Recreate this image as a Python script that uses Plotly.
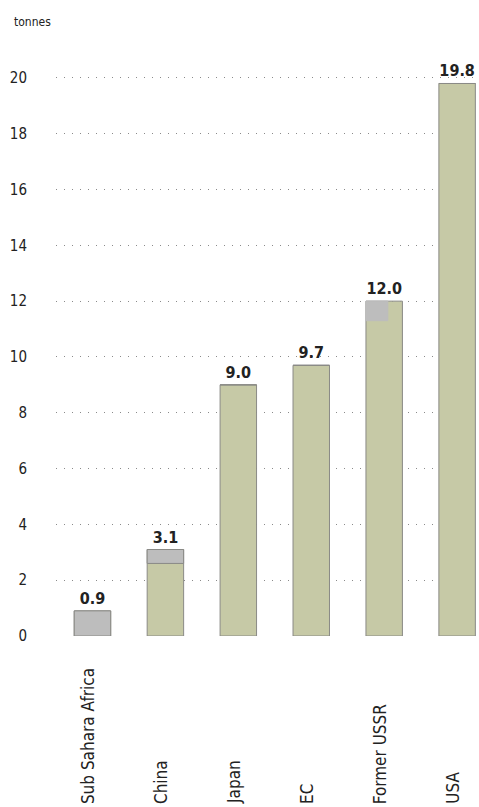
import plotly.graph_objects as go

categories = ["Sub Sahara Africa", "China", "Japan", "EC", "Former USSR", "USA"]
totals = [0.9, 3.1, 9.0, 9.7, 12.0, 19.8]
grey_part = [0.9, 0.5, 0.0, 0.0, 0.7, 0.0]
y_ticks = [0, 2, 4, 6, 8, 10, 12, 14, 16, 18, 20]

GREEN = "#c6c9a6"
GREY = "#bdbdbd"
EDGE = "#8a8a86"
FONT = "DejaVu Sans Condensed"

xs = list(range(len(categories)))
grey_base = [t - g for t, g in zip(totals, grey_part)]
grey_w = [0.5 if g != 0.7 else 0.3 for g in grey_part]
grey_off = [-0.25] * len(categories)
grey_line = [EDGE if w == 0.5 else GREY for w in grey_w]

L, T, PH, PW = 56, 50, 586, 423

fig = go.Figure()
fig.add_trace(go.Bar(
    x=xs, y=totals, width=0.5,
    marker=dict(color=GREEN, line=dict(color=EDGE, width=1)),
    text=[f"{v:.1f}" for v in totals], textposition="outside",
    textfont=dict(family=FONT, size=16, color="#222", weight="bold"),
    cliponaxis=False, hoverinfo="skip",
))
fig.add_trace(go.Bar(
    x=xs, y=grey_part, base=grey_base, width=grey_w, offset=grey_off,
    marker=dict(color=GREY, line=dict(color=grey_line, width=1)),
    hoverinfo="skip",
))

for x, c in zip(xs, categories):
    fig.add_annotation(
        x=x - 0.06, y=-(806 - (T + PH)) / PH, xref="x", yref="paper", yanchor="bottom",
        text=c, textangle=-90, showarrow=False,
        font=dict(family=FONT, size=17, color="#222"),
    )

fig.add_annotation(
    x=(12 - L) / PW, y=1 + (T - 22) / PH, xref="paper", yref="paper",
    xanchor="left", yanchor="middle", text="tonnes", showarrow=False,
    font=dict(family=FONT, size=12, color="#222"),
)

fig.update_layout(
    width=479, height=807, barmode="overlay", showlegend=False,
    plot_bgcolor="white", paper_bgcolor="white",
    margin=dict(l=L, r=0, t=T, b=807 - T - PH),
    xaxis=dict(range=[-0.5, 5.3], showticklabels=False, showgrid=False,
               zeroline=False, showline=False, ticks=""),
    yaxis=dict(range=[0, 21], tickvals=y_ticks, showgrid=True,
               gridcolor="#8a8a8a", griddash="1px,7px", gridwidth=1,
               zeroline=False, showline=False, ticks="",
               ticklabelstandoff=28,
               tickfont=dict(family=FONT, size=15, color="#222")),
)
fig.write_html("out.html")
